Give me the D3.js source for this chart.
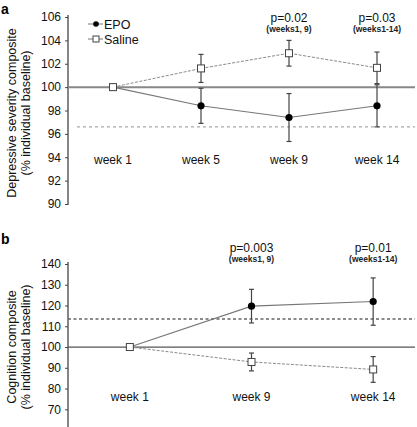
<!DOCTYPE html>
<html><head><meta charset="utf-8">
<script src="https://cdn.jsdelivr.net/npm/d3@7"></script>
<style>body{margin:0;background:#fff}svg{display:block;font-family:Arial,"Liberation Sans",sans-serif}</style>
</head><body><svg id="c" width="417" height="427"></svg>
<script>
// Panel a data
const weeksA = ["week 1","week 5","week 9","week 14"];
const epoA = [100, 98.4, 97.4, 98.4];
const epoErrA = [0, 1.5, 2.05, 1.8];
const salA = [100, 101.6, 102.9, 101.65];
const salErrA = [0, 1.2, 1.1, 1.35];
const ticksA = [90,92,94,96,98,100,102,104,106];
const refA = 96.6;
const pA = [{week:"week 9", p:"p=0.02", sub:"(weeks1, 9)"},{week:"week 14", p:"p=0.03", sub:"(weeks1-14)"}];
// Panel b data
const weeksB = ["week 1","week 9","week 14"];
const epoB = [100, 119.7, 121.9];
const epoErrB = [0, 8.1, 11.4];
const salB = [100, 92.8, 89.2];
const salErrB = [0, 4.3, 6.2];
const ticksB = [70,80,90,100,110,120,130,140];
const refB = 113.5;
const pB = [{week:"week 9", p:"p=0.003", sub:"(weeks1, 9)"},{week:"week 14", p:"p=0.01", sub:"(weeks1-14)"}];

const svg = d3.select("#c");
const axisX = 68, rightEdge = 415;

function panel(o){
  const g = svg.append("g");
  const x = d3.scalePoint().domain(o.weeks).range([o.x0, o.x1]).padding(0.5);
  const y = d3.scaleLinear().domain(o.domain).range(o.yRange);
  // y axis
  const ax = g.append("g").attr("transform",`translate(${axisX},0)`)
    .call(d3.axisLeft(y).tickValues(o.ticks).tickSize(3).tickPadding(4).tickFormat(d3.format("d")));
  ax.select(".domain").remove();
  ax.append("line").attr("y1", o.axisTop).attr("y2", o.axisBottom).attr("stroke","#444").attr("stroke-width",1.3);
  ax.selectAll(".tick line").attr("stroke","#444");
  ax.selectAll(".tick text").attr("font-size",12).attr("fill","#111").attr("font-family","Arial, 'Liberation Sans', sans-serif");
  // reference lines
  g.append("line").attr("x1",axisX).attr("x2",rightEdge).attr("y1",y(100)).attr("y2",y(100))
    .attr("stroke",o.baseColor).attr("stroke-width",o.baseWidth);
  g.append("line").attr("x1",o.refStart).attr("x2",rightEdge).attr("y1",y(o.ref)).attr("y2",y(o.ref))
    .attr("stroke",o.refColor).attr("stroke-width",o.refWidth).attr("stroke-dasharray",o.refDash);
  // week labels
  g.selectAll(".wk").data(o.weeks).join("text").attr("x",d=>x(d)).attr("y",o.weekY)
    .attr("text-anchor","middle").attr("font-size",12).attr("fill","#111").text(d=>d);
  // p labels
  o.pl.forEach(p=>{
    g.append("text").attr("x",x(p.week)).attr("y",o.pY).attr("text-anchor","middle").attr("font-size",12).attr("fill","#111").text(p.p);
    g.append("text").attr("x",x(p.week)).attr("y",o.pY+10).attr("text-anchor","middle").attr("font-size",8.5).attr("font-weight","bold").attr("fill","#222").text(p.sub);
  });
  const line = d3.line().x((d,i)=>x(o.weeks[i])).y(d=>y(d));
  g.append("path").attr("d",line(o.sal)).attr("fill","none").attr("stroke","#8a8a8a").attr("stroke-width",1).attr("stroke-dasharray","3,1.5");
  g.append("path").attr("d",line(o.epo)).attr("fill","none").attr("stroke","#777").attr("stroke-width",1.1);
  // error bars
  function errs(vals, errs){
    vals.forEach((v,i)=>{
      if(!errs[i]) return;
      const cx = x(o.weeks[i]);
      g.append("line").attr("x1",cx).attr("x2",cx).attr("y1",y(v-errs[i])).attr("y2",y(v+errs[i])).attr("stroke","#444").attr("stroke-width",1.2);
      [v-errs[i], v+errs[i]].forEach(e=>g.append("line").attr("x1",cx-2.5).attr("x2",cx+2.5).attr("y1",y(e)).attr("y2",y(e)).attr("stroke","#444").attr("stroke-width",1.2));
    });
  }
  errs(o.epo, o.epoErr); errs(o.sal, o.salErr);
  // markers
  g.selectAll(".ep").data(o.epo).join("circle").attr("cx",(d,i)=>x(o.weeks[i])).attr("cy",d=>y(d)).attr("r",3.6).attr("fill","#000");
  g.selectAll(".sl").data(o.sal).join("rect").attr("x",(d,i)=>x(o.weeks[i])-3.5).attr("y",d=>y(d)-3.5).attr("width",7).attr("height",7)
    .attr("fill","#fff").attr("stroke","#444").attr("stroke-width",1);
  // panel letter
  svg.append("text").attr("x",1).attr("y",o.letterY).attr("font-size",14).attr("font-weight","bold").attr("fill","#000").text(o.letter);
  // axis title
  o.title.forEach((t,i)=>{
    svg.append("text").attr("transform",`translate(${o.titleX[i]},${o.titleCY}) rotate(-90)`).attr("text-anchor","middle")
      .attr("font-size",12.5).attr("fill","#111").text(t);
  });
  return {x,y,g};
}

const A = panel({weeks:weeksA, x0:69, x1:421, domain:[90,106], yRange:[204,17], ticks:ticksA, axisTop:15, axisBottom:205,
  epo:epoA, epoErr:epoErrA, sal:salA, salErr:salErrA, ref:refA, refStart:77, refColor:"#aaa", refWidth:1.2, refDash:"3,3",
  baseColor:"#888", baseWidth:2, weekY:164, pl:pA, pY:22, letter:"a", letterY:14,
  title:["Depressive severity composite","(% individual baseline)"], titleX:[16,30], titleCY:113});

const B = panel({weeks:weeksB, x0:69, x1:434, domain:[70,140], yRange:[409.3,264], ticks:ticksB, axisTop:262, axisBottom:427,
  epo:epoB, epoErr:epoErrB, sal:salB, salErr:salErrB, ref:refB, refStart:68, refColor:"#666", refWidth:1.5, refDash:"3,2.5",
  baseColor:"#555", baseWidth:1.3, weekY:401, pl:pB, pY:252, letter:"b", letterY:244,
  title:["Cognition composite","(% individual baseline)"], titleX:[16,30], titleCY:347});

// legend (panel a)
const leg = svg.append("g");
const legItems = [{name:"EPO", y:24, type:"c"},{name:"Saline", y:39, type:"s"}];
legItems.forEach(d=>{
  leg.append("line").attr("x1",88).attr("x2",103).attr("y1",d.y).attr("y2",d.y).attr("stroke","#777").attr("stroke-width",1);
  if(d.type==="c") leg.append("circle").attr("cx",96).attr("cy",d.y).attr("r",2.8).attr("fill","#000");
  else leg.append("rect").attr("x",93).attr("y",d.y-3).attr("width",6).attr("height",6).attr("fill","#fff").attr("stroke","#444");
  leg.append("text").attr("x",104).attr("y",d.y+4.5).attr("font-size",12.5).attr("fill","#111").text(d.name);
});
</script></body></html>
